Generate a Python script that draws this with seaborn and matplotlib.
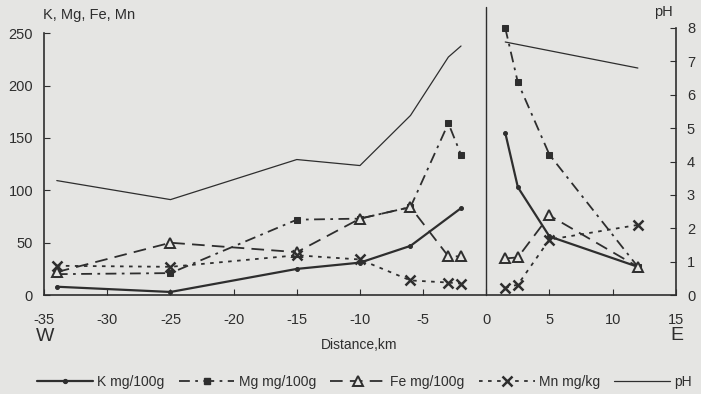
import numpy as np
import pandas as pd
import matplotlib.pyplot as plt
import seaborn as sns
from matplotlib.lines import Line2D

# Distancias (km) de los puntos de muestreo, lado oeste y lado este
dist_w = [-34, -25, -15, -10, -6, -3, -2]
dist_e = [1.5, 2.5, 5, 12]

# Valores (eje izquierdo)
k_w = [8, 3, 25, 31, 47, np.nan, 83]
k_e = [155, 103, 56, 27]
mg_w = [20, 21, 72, 73, 84, 164, 134]
mg_e = [255, 203, 134, 27]
fe_w = [22, 50, 41, 73, 84, 37, 37]
fe_e = [35, 36, 76, 27]
mn_w = [28, 27, 38, 34, 14, 12, 11]
mn_e = [7, 10, 53, 67]

# pH (eje derecho)
ph_w = [3.43, 2.86, 4.06, 3.88, 5.38, 7.13, 7.46]
ph_e = [7.58, np.nan, np.nan, 6.8]

series = {
    "K mg/100g": (k_w, k_e),
    "Mg mg/100g": (mg_w, mg_e),
    "Fe mg/100g": (fe_w, fe_e),
    "Mn mg/kg": (mn_w, mn_e),
    "pH": (ph_w, ph_e),
}

rows = []
for name, (w, e) in series.items():
    for d, v in zip(dist_w, w):
        rows.append((name, "W", d, v))
    for d, v in zip(dist_e, e):
        rows.append((name, "E", d, v))
df = pd.DataFrame(rows, columns=["serie", "lado", "dist", "valor"]).dropna()

bg = "#e5e5e3"
ink = "#2e2e2e"

sns.set_style("ticks")
plt.rcParams["font.family"] = ["Liberation Sans", "DejaVu Sans"]

estilos = {
    "K mg/100g": dict(linestyle="-", lw=1.6, marker="o", ms=2.8,
                      markerfacecolor=ink, markeredgecolor=ink),
    "Mg mg/100g": dict(linestyle=(0, (6, 3, 1.5, 3)), lw=1.3, marker="s", ms=5,
                       markerfacecolor=ink, markeredgecolor=ink),
    "Fe mg/100g": dict(linestyle=(0, (7, 4)), lw=1.3, marker="^", ms=7,
                       markerfacecolor=bg, markeredgecolor=ink, markeredgewidth=1.4),
    "Mn mg/kg": dict(linestyle=(0, (2, 3)), lw=1.3, marker="x", ms=7,
                     markeredgecolor=ink, markeredgewidth=1.8),
    "pH": dict(linestyle="-", lw=0.9),
}

fig = plt.figure(figsize=(7.01, 3.94), dpi=100, facecolor=bg)
ax = fig.add_axes([0.063, 0.251, 0.901, 0.678])
ax.set_facecolor(bg)
ax2 = ax.twinx()

for name in ["K mg/100g", "Mg mg/100g", "Fe mg/100g", "Mn mg/kg"]:
    sns.lineplot(data=df[df["serie"] == name], x="dist", y="valor", units="lado",
                 estimator=None, ax=ax, color=ink, legend=False, clip_on=False,
                 **estilos[name])

sns.lineplot(data=df[df["serie"] == "pH"], x="dist", y="valor", units="lado",
             estimator=None, ax=ax2, color=ink, legend=False, **estilos["pH"])

ax.axvline(0, ymin=0, ymax=1.08, color=ink, lw=1.0, clip_on=False)

ax.set_xlim(-35, 15)
ax.set_ylim(0, 255)
ax2.set_ylim(0, 8)
ax.set_xticks(range(-35, 16, 5))
ax.set_xticklabels([str(t) for t in range(-35, 16, 5)])
ax.set_yticks(range(0, 251, 50))
ax2.set_yticks(range(0, 9))

ax.set_xlabel("")
ax.set_ylabel("")
ax2.set_ylabel("")

for a in (ax, ax2):
    a.spines["top"].set_visible(False)
    for s in a.spines.values():
        s.set_color(ink)
        s.set_linewidth(1.2)
ax.spines["left"].set_bounds(0, 250)
ax.spines["right"].set_visible(False)
ax2.spines["left"].set_visible(False)
ax2.spines["bottom"].set_visible(False)

ax.tick_params(axis="x", direction="in", length=4, pad=13, labelsize=10.5, colors=ink)
ax.tick_params(axis="y", direction="in", length=4, pad=8, labelsize=10.5, colors=ink)
ax2.tick_params(axis="y", direction="in", length=4, pad=8, labelsize=10.5, colors=ink)

fig.text(0.062, 0.962, "K, Mg, Fe, Mn", fontsize=10.5, color=ink, va="center", ha="left")
fig.text(0.946, 0.970, "pH", fontsize=10.5, color=ink, va="center", ha="center")
fig.text(0.064, 0.145, "W", fontsize=14, color=ink, va="center", ha="center")
fig.text(0.966, 0.148, "E", fontsize=14, color=ink, va="center", ha="center")
fig.text(0.513, 0.124, "Distance,km", fontsize=10, color=ink, va="center", ha="center")

handles = [Line2D([], [], color=ink, **estilos[n]) for n in series]
fig.legend(handles, list(series.keys()), loc="center", bbox_to_anchor=(0.52, 0.03),
           ncol=5, frameon=False, fontsize=10, handlelength=4.0, columnspacing=1.05,
           handletextpad=0.3, labelcolor=ink)

fig.savefig("out.png", dpi=100, facecolor=bg)
